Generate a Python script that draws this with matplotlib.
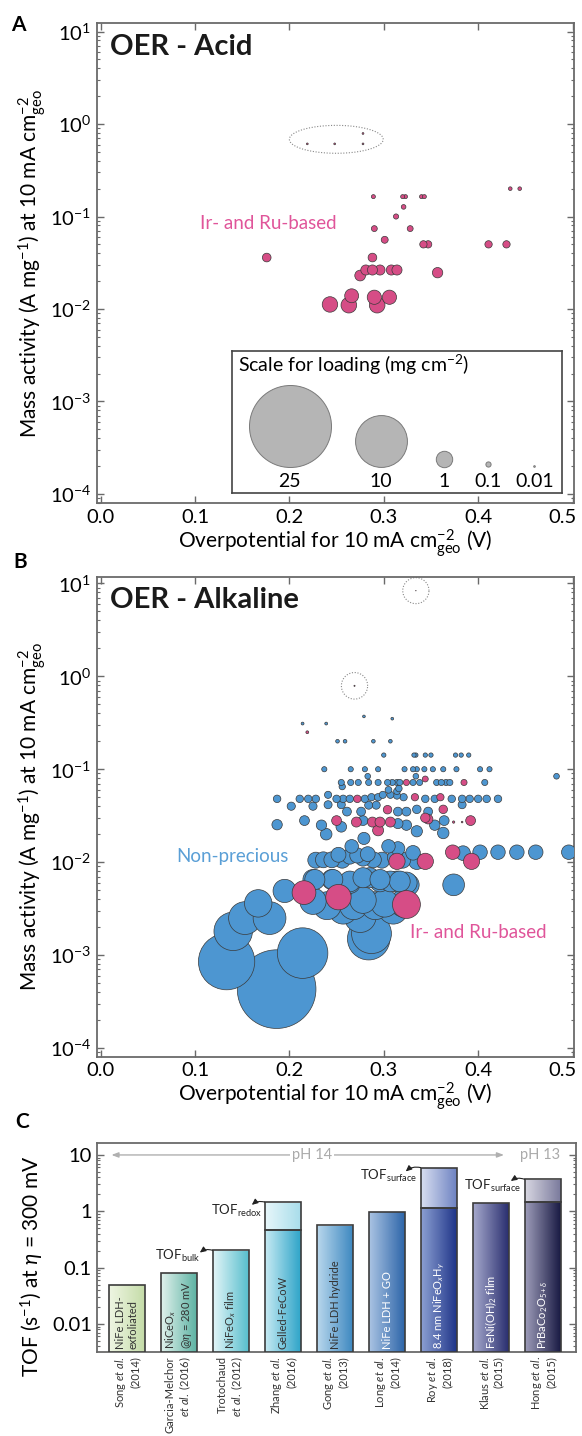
import numpy as np
import matplotlib
matplotlib.use("Agg")
import matplotlib.pyplot as plt
from matplotlib.ticker import LogLocator, NullFormatter, FuncFormatter, MultipleLocator
from matplotlib.patches import Rectangle
from matplotlib.transforms import ScaledTranslation

# ---------------- DATA ----------------
# Panel A: OER acid (Ir/Ru based)
acid_eta = [0.219, 0.248, 0.278, 0.278, 0.434, 0.444, 0.289, 0.320, 0.323, 0.340, 0.343,
            0.321, 0.313, 0.290, 0.328, 0.301, 0.342, 0.347, 0.411, 0.430, 0.288, 0.176,
            0.281, 0.288, 0.296, 0.308, 0.314, 0.275, 0.357, 0.243, 0.263, 0.266, 0.290,
            0.293, 0.306]
acid_ma = [0.61, 0.61, 0.61, 0.79, 0.20, 0.20, 0.164, 0.164, 0.164, 0.164, 0.164,
           0.127, 0.100, 0.074, 0.074, 0.056, 0.050, 0.050, 0.050, 0.050, 0.036, 0.036,
           0.0264, 0.0264, 0.0264, 0.0264, 0.0264, 0.023, 0.0247, 0.0112, 0.011, 0.0139, 0.0134,
           0.011, 0.0134]
acid_load = [0.012, 0.012, 0.012, 0.012, 0.05, 0.05, 0.06, 0.06, 0.06, 0.06, 0.06,
             0.08, 0.10, 0.13, 0.13, 0.18, 0.20, 0.20, 0.20, 0.20, 0.28, 0.28,
             0.38, 0.38, 0.38, 0.38, 0.38, 0.43, 0.40, 0.89, 0.91, 0.72, 0.75,
             0.91, 0.75]

# Panel B: OER alkaline, non-precious
alk_np_eta = [0.214, 0.239, 0.279, 0.309, 0.251, 0.259, 0.289, 0.307,
              0.300, 0.332, 0.334, 0.344, 0.350, 0.376, 0.382, 0.390,
              0.237, 0.265, 0.280, 0.294, 0.322, 0.331, 0.335, 0.343, 0.352, 0.363, 0.377, 0.402, 0.412,
              0.483, 0.283, 0.334,
              0.255, 0.265, 0.273, 0.284, 0.294, 0.304, 0.309, 0.314, 0.317, 0.331, 0.338, 0.356,
              0.361, 0.366, 0.370, 0.407,
              0.256, 0.316, 0.314, 0.305,
              0.187, 0.211, 0.220, 0.228, 0.250, 0.257, 0.264, 0.280, 0.321, 0.344, 0.354, 0.372,
              0.383, 0.391, 0.400, 0.409, 0.421,
              0.241, 0.287, 0.294, 0.299, 0.307, 0.314,
              0.202, 0.225,
              0.241, 0.255, 0.284, 0.292, 0.383,
              0.261, 0.276, 0.315, 0.324, 0.335, 0.347,
              0.187, 0.216, 0.234, 0.255, 0.278, 0.315, 0.324, 0.335, 0.354, 0.364, 0.363, 0.239, 0.279,
              0.266, 0.252, 0.236, 0.245, 0.264, 0.278, 0.289, 0.305, 0.315, 0.335, 0.331, 0.384,
              0.402, 0.421, 0.441, 0.461, 0.496,
              0.228, 0.256, 0.272, 0.283, 0.298, 0.312, 0.320,
              0.195, 0.225, 0.245, 0.264, 0.285, 0.296, 0.307, 0.317, 0.324, 0.374,
              0.227, 0.246, 0.264, 0.278, 0.296, 0.314, 0.326,
              0.225, 0.240, 0.257, 0.268, 0.278, 0.291, 0.301, 0.310, 0.321, 0.275, 0.287, 0.284,
              0.167, 0.153, 0.179, 0.1405, 0.1335, 0.1865, 0.214]
alk_np_ma = [0.31, 0.31, 0.37, 0.35, 0.20, 0.20, 0.20, 0.20,
             0.142, 0.142, 0.142, 0.142, 0.142, 0.142, 0.142, 0.142,
             0.10, 0.10, 0.10, 0.10, 0.10, 0.10, 0.10, 0.10, 0.10, 0.10, 0.10, 0.10, 0.10,
             0.084, 0.084, 0.084,
             0.072, 0.072, 0.072, 0.072, 0.072, 0.072, 0.072, 0.072, 0.072, 0.072, 0.072, 0.072,
             0.072, 0.072, 0.072, 0.072,
             0.065, 0.062, 0.058, 0.060,
             0.048, 0.048, 0.048, 0.048, 0.048, 0.048, 0.048, 0.048, 0.050, 0.048, 0.048, 0.048,
             0.048, 0.048, 0.048, 0.048, 0.048,
             0.053, 0.050, 0.050, 0.053, 0.053, 0.052,
             0.040, 0.040,
             0.0415, 0.0415, 0.041, 0.041, 0.0415,
             0.035, 0.035, 0.035, 0.035, 0.037, 0.035,
             0.0253, 0.028, 0.025, 0.024, 0.028, 0.026, 0.025, 0.0215, 0.025, 0.028, 0.0206, 0.020, 0.018,
             0.0148, 0.012, 0.0106, 0.0106, 0.0115, 0.011, 0.0106, 0.0148, 0.014, 0.0102, 0.0126, 0.0125,
             0.0128, 0.0128, 0.0128, 0.0128, 0.0128,
             0.0105, 0.0105, 0.0118, 0.0122, 0.0105, 0.0112, 0.0105,
             0.0049, 0.0065, 0.0065, 0.0062, 0.0068, 0.0062, 0.0062, 0.0062, 0.0060, 0.0057,
             0.0065, 0.0065, 0.0060, 0.0068, 0.0065, 0.0062, 0.0057,
             0.0038, 0.0034, 0.0031, 0.0034, 0.0039, 0.0034, 0.0036, 0.0031, 0.0036, 0.0026, 0.0017, 0.0015,
             0.0036, 0.0025, 0.0025, 0.0018, 0.00085, 0.00043, 0.00105]
alk_np_load = [0.03, 0.03, 0.027, 0.028, 0.05, 0.05, 0.05, 0.05,
               0.07, 0.07, 0.07, 0.07, 0.07, 0.07, 0.07, 0.07,
               0.10, 0.10, 0.10, 0.10, 0.10, 0.10, 0.10, 0.10, 0.10, 0.10, 0.10, 0.10, 0.10,
               0.12, 0.12, 0.12,
               0.14, 0.14, 0.14, 0.14, 0.14, 0.14, 0.14, 0.14, 0.14, 0.14, 0.14, 0.14,
               0.14, 0.14, 0.14, 0.14,
               0.15, 0.16, 0.17, 0.17,
               0.21, 0.21, 0.21, 0.21, 0.21, 0.21, 0.21, 0.21, 0.20, 0.21, 0.21, 0.21,
               0.21, 0.21, 0.21, 0.21, 0.21,
               0.19, 0.20, 0.20, 0.19, 0.19, 0.19,
               0.25, 0.25,
               0.24, 0.24, 0.24, 0.24, 0.24,
               0.29, 0.29, 0.29, 0.29, 0.27, 0.29,
               0.40, 0.36, 0.40, 0.42, 0.36, 0.38, 0.40, 0.47, 0.40, 0.36, 0.49, 0.50, 0.55,
               0.68, 0.83, 0.94, 0.94, 0.87, 0.91, 0.94, 0.68, 0.71, 0.98, 0.79, 0.80,
               0.78, 0.78, 0.78, 0.78, 0.78,
               0.95, 0.95, 0.85, 0.82, 0.95, 0.89, 0.95,
               2.0, 1.5, 1.5, 1.6, 1.5, 1.6, 1.6, 1.6, 1.7, 1.75,
               1.5, 1.5, 1.7, 1.5, 1.5, 1.6, 1.75,
               2.6, 2.9, 3.2, 2.9, 2.6, 2.9, 2.8, 3.2, 2.8, 3.8, 5.9, 6.7,
               2.8, 4.0, 4.0, 5.5, 11.8, 23.0, 9.5]

# Panel B: OER alkaline, Ir- and Ru-based
alk_pm_eta = [0.334, 0.269, 0.219, 0.324, 0.385, 0.344, 0.272, 0.333, 0.360, 0.304, 0.363,
              0.250, 0.271, 0.288, 0.296, 0.294, 0.307, 0.344, 0.347, 0.374, 0.383, 0.392,
              0.314, 0.344, 0.373, 0.393, 0.2155, 0.252, 0.324]
alk_pm_ma = [8.35, 0.79, 0.25, 0.072, 0.072, 0.0785, 0.048, 0.050, 0.050, 0.0367, 0.037,
             0.028, 0.027, 0.027, 0.027, 0.022, 0.027, 0.030, 0.029, 0.027, 0.027, 0.028,
             0.0102, 0.0102, 0.0128, 0.0102, 0.0047, 0.0042, 0.0035]
alk_pm_load = [0.001, 0.005, 0.03, 0.14, 0.14, 0.13, 0.21, 0.20, 0.20, 0.27, 0.27,
               0.36, 0.37, 0.37, 0.37, 0.45, 0.37, 0.33, 0.34, 0.02, 0.01, 0.36,
               0.98, 0.98, 0.78, 0.98, 2.1, 2.4, 2.9]

# Loading scale legend
legend_loads = [25, 10, 1, 0.1, 0.01]
legend_labels = ["25", "10", "1", "0.1", "0.01"]

# Panel C: TOF at 300 mV
tof_names = ["NiFe LDH-\nexfoliated", "NiCeO$_x$\n@$\\eta$ = 280 mV", "NiFeO$_x$ film",
             "Gelled-FeCoW", "NiFe LDH hydride", "NiFe LDH + GO", "8.4 nm NiFeO$_x$H$_y$",
             "FeNi(OH)$_2$ film", "PrBaCo$_2$O$_{5+\\delta}$"]
tof_refs = ["Song $\\it{et\\ al.}$\n(2014)", "Garcia-Melchor\n$\\it{et\\ al.}$ (2016)",
            "Trotochaud\n$\\it{et\\ al.}$ (2012)", "Zhang $\\it{et\\ al.}$\n(2016)",
            "Gong $\\it{et\\ al.}$\n(2013)", "Long $\\it{et\\ al.}$\n(2014)",
            "Roy $\\it{et\\ al.}$\n(2018)", "Klaus $\\it{et\\ al.}$\n(2015)",
            "Hong $\\it{et\\ al.}$\n(2015)"]
tof_main = [0.05, 0.08, 0.203, 0.47, 0.56, 0.98, 1.13, 1.39, 1.49]
tof_upper = [None, None, None, 1.46, None, None, 5.97, None, 3.7]

# ---------------- STYLE ----------------
DPI = 100
W, H = 582, 1436
FONT = "Lato"
plt.rcParams["font.family"] = [FONT, "DejaVu Sans"]
plt.rcParams["mathtext.fontset"] = "custom"
plt.rcParams["mathtext.rm"] = FONT
plt.rcParams["mathtext.it"] = FONT + ":italic"
plt.rcParams["mathtext.bf"] = FONT + ":bold"
plt.rcParams["axes.unicode_minus"] = False

PINK = "#d64d86"
BLUE = "#4d96d1"
EDGE = "#3a3a3a"
SPINE = "#6a6a6a"
R1_PX = 8.2  # radius in px for loading of 1 mg cm-2
TICK_FS = 14.5
LABEL_FS = 15


def size_from_load(load):
    load = np.asarray(load, dtype=float)
    return (2 * R1_PX * np.sqrt(load) * 72.0 / DPI) ** 2


def frac(x0, y0, x1, y1):
    return [x0 / W, 1 - y1 / H, (x1 - x0) / W, (y1 - y0) / H]


fig = plt.figure(figsize=(W / DPI, H / DPI), dpi=DPI)

axA = fig.add_axes(frac(96.7, 23.3, 573.7, 503.3))
axB = fig.add_axes(frac(96.7, 576.7, 573.7, 1056.7))
axC = fig.add_axes(frac(96.7, 1142.7, 575.6, 1352.3))


def style_scatter_axes(ax, ylim):
    ax.set_yscale("log")
    ax.set_xlim(-0.0041, 0.5012)
    ax.set_ylim(*ylim)
    ax.set_xticks([0.0, 0.1, 0.2, 0.3, 0.4, 0.5])
    ax.xaxis.set_major_formatter(FuncFormatter(lambda v, _: f"{v:.1f}"))
    ax.yaxis.set_major_locator(LogLocator(base=10, numticks=20))
    ax.yaxis.set_minor_locator(LogLocator(base=10, subs=np.arange(2, 10), numticks=20))
    ax.yaxis.set_minor_formatter(NullFormatter())
    ax.tick_params(which="both", direction="in", top=True, right=True, color=SPINE)
    ax.tick_params(which="major", length=5, width=1, labelsize=TICK_FS, pad=4)
    ax.tick_params(which="minor", length=2.5, width=0.8)
    for s in ax.spines.values():
        s.set_color(SPINE)
        s.set_linewidth(1.3)
    ax.set_xlabel(r"Overpotential for 10 mA cm$^{-2}_{\rm geo}$ (V)", fontsize=LABEL_FS, va="center")
    ax.xaxis.set_label_coords(0.5, -0.082)
    ax.set_ylabel(r"Mass activity (A mg$^{-1}$) at 10 mA cm$^{-2}_{\rm geo}$", fontsize=LABEL_FS,
                  va="center")
    ax.yaxis.set_label_coords(-0.135, 0.5)


def dotted_ellipse(ax, cx, cy, hw, hdec):
    t = np.linspace(0, 2 * np.pi, 200)
    ax.plot(cx + hw * np.cos(t), cy * 10 ** (hdec * np.sin(t)), ls=(0, (1, 1.5)),
            color="#888888", lw=0.8, zorder=1)


def scatter_sorted(ax, x, y, load, color, z):
    x = np.asarray(x); y = np.asarray(y); load = np.asarray(load)
    order = np.argsort(-load)
    ax.scatter(x[order], y[order], s=size_from_load(load[order]), c=color,
               edgecolors=EDGE, linewidths=0.5, zorder=z)


# ---- Panel A ----
style_scatter_axes(axA, (7.93e-5, 12.27))
scatter_sorted(axA, acid_eta, acid_ma, acid_load, PINK, 3)
dotted_ellipse(axA, 0.2497, 0.683, 0.0497, 0.151)
axA.text(0.028, 0.951, "OER - Acid", transform=axA.transAxes, fontsize=21, fontweight="bold",
         ha="left", va="center", color="#1a1a1a")
axA.text(0.105, 0.083, "Ir- and Ru-based", color="#e0559a", fontsize=13.5, ha="left", va="center")

# legend for loading
legx0, legy0, legx1, legy1 = 231.7, 350.7, 562.4, 492.7
axL = fig.add_axes(frac(legx0, legy0, legx1, legy1))
lw_px, lh_px = legx1 - legx0, legy1 - legy0
axL.set_xlim(0, lw_px)
axL.set_ylim(0, lh_px)
axL.set_xticks([]); axL.set_yticks([])
for s in axL.spines.values():
    s.set_color("#444444"); s.set_linewidth(1.2)
leg_x = [57.8, 148.9, 212.6, 256.5, 302.6]
base = 25.7
for lx, ld, lab in zip(leg_x, legend_loads, legend_labels):
    axL.scatter([lx], [base + R1_PX * np.sqrt(ld)], s=size_from_load([ld]), c="#b5b5b5",
                edgecolors="#7a7a7a", linewidths=0.7, zorder=3)
    axL.text(lx, 11, lab, ha="center", va="center", fontsize=14)
axL.text(6.8, 127.7, "Scale for loading (mg cm$^{-2}$)", ha="left", va="center", fontsize=14)

# ---- Panel B ----
style_scatter_axes(axB, (8.06e-5, 11.8))
scatter_sorted(axB, alk_np_eta, alk_np_ma, alk_np_load, BLUE, 3)
scatter_sorted(axB, alk_pm_eta, alk_pm_ma, alk_pm_load, PINK, 4)
dotted_ellipse(axB, 0.269, 0.79, 0.0139, 0.143)
dotted_ellipse(axB, 0.334, 8.35, 0.0139, 0.14)
axB.text(0.028, 0.951, "OER - Alkaline", transform=axB.transAxes, fontsize=21, fontweight="bold",
         ha="left", va="center", color="#1a1a1a")
axB.text(0.08, 0.0115, "Non-precious", color="#5a9fd6", fontsize=13.5, ha="left", va="center")
axB.text(0.328, 0.00175, "Ir- and Ru-based", color="#e0559a", fontsize=13.5, ha="left", va="center")

# ---- Panel C ----
C_YMIN, C_YMAX = 0.00314, 16.5
axC.set_yscale("log")
axC.set_ylim(C_YMIN, C_YMAX)
axC.set_xlim(-0.583, 8.627)
axC.yaxis.set_major_locator(LogLocator(base=10, numticks=20))
axC.yaxis.set_minor_locator(LogLocator(base=10, subs=np.arange(2, 10), numticks=20))
axC.yaxis.set_minor_formatter(NullFormatter())
axC.yaxis.set_major_formatter(FuncFormatter(lambda v, _: f"{v:g}"))
axC.tick_params(axis="y", which="both", direction="in", right=True, color=SPINE)
axC.tick_params(axis="y", which="major", length=5, width=1, labelsize=TICK_FS)
axC.tick_params(axis="y", which="minor", length=2.5, width=0.8)
for s in axC.spines.values():
    s.set_color(SPINE); s.set_linewidth(1.3)
axC.set_ylabel(r"TOF (s$^{-1}$) at $\eta$ = 300 mV", fontsize=LABEL_FS, va="center")
axC.yaxis.set_label_coords(-0.135, 0.412)

xpos = np.arange(len(tof_main))
axC.set_xticks(xpos)
axC.set_xticklabels(tof_refs, rotation=90, ha="center", va="top", multialignment="right",
                    fontsize=8, color="#333333")
axC.tick_params(axis="x", length=0, pad=3)

BAR_W = 0.71
lower_cols = [("#eef5e2", "#c3dba6"), ("#def0eb", "#58b0a0"), ("#e0f4f7", "#52bccb"),
              ("#c4e9f2", "#29a2c7"), ("#b7d6ec", "#3a86bf"), ("#a8c2e2", "#2962a7"),
              ("#8a9ed1", "#1b3186"), ("#a4a7cb", "#252a6c"), ("#9b9ab7", "#14153f")]
upper_cols = [None, None, None, ("#e6f6fa", "#a6dcea"), None, None,
              ("#d6ddf0", "#6a7fc0"), None, ("#d6d5e0", "#77779a")]
text_cols = ["#333333"] * 5 + ["white"] * 4


def grad_bar(ax, x, y0, y1, cols):
    rect = Rectangle((x - BAR_W / 2, y0), BAR_W, y1 - y0, facecolor="none",
                     edgecolor="#3c3c3c", lw=1.2, zorder=4)
    ax.add_patch(rect)
    cmap = matplotlib.colors.LinearSegmentedColormap.from_list("g", list(cols))
    grad = np.linspace(0, 1, 64).reshape(1, -1)
    im = ax.imshow(grad, cmap=cmap, extent=[x - BAR_W / 2, x + BAR_W / 2, y0, y1],
                   aspect="auto", interpolation="bilinear", zorder=3)
    im.set_clip_path(rect)


for i in range(len(tof_main)):
    grad_bar(axC, xpos[i], C_YMIN, tof_main[i], lower_cols[i])
    if tof_upper[i] is not None:
        grad_bar(axC, xpos[i], tof_main[i], tof_upper[i], upper_cols[i])
    axC.annotate(tof_names[i], xy=(xpos[i], 0.015), xycoords=("data", "axes fraction"),
                 rotation=90, ha="center", va="bottom", multialignment="left",
                 fontsize=8, color=text_cols[i], zorder=6)

axC.set_xlim(-0.583, 8.627)
axC.set_ylim(C_YMIN, C_YMAX)

# TOF annotations (bar index, bar top, subscript, text anchor, arrow head)
ann = [(2, 0.203, "bulk", (1.40, 0.16), (1.40, 0.185)),
       (3, 1.46, "redox", (2.60, 1.0), (2.40, 1.30)),
       (6, 5.97, "surface", (5.58, 4.2), (5.36, 5.1)),
       (8, 3.7, "surface", (7.58, 2.8), (7.38, 3.45))]
for bi, top, sub, tpos, head in ann:
    axC.text(tpos[0], tpos[1], "TOF$_{\\rm " + sub + "}$", ha="right", va="center",
             fontsize=9.5, color="#222222", zorder=6)
    axC.annotate("", xy=head, xytext=(bi - BAR_W / 2, top),
                 arrowprops=dict(arrowstyle="-|>,head_length=0.35,head_width=0.16",
                                 color="#222222", lw=0.8, shrinkA=0, shrinkB=0,
                                 connectionstyle="arc3,rad=0.25"), zorder=6)

# pH arrows
PH_Y = 10
axC.annotate("", xy=(-0.3, PH_Y), xytext=(7.25, PH_Y),
             arrowprops=dict(arrowstyle="<|-|>,head_length=0.4,head_width=0.15",
                             color="#b0b0b0", lw=1.0, shrinkA=0, shrinkB=0), zorder=5)
axC.text(3.55, PH_Y, "pH 14", ha="center", va="center", color="#aaaaaa", fontsize=10.5,
         bbox=dict(facecolor="white", edgecolor="none", pad=1.5), zorder=6)
axC.text(7.94, PH_Y, "pH 13", ha="center", va="center", color="#aaaaaa", fontsize=10.5, zorder=6)

# panel letters
for lab, (px, py) in zip(["A", "B", "C"], [(18, 25), (20, 561.7), (21.7, 1121.7)]):
    fig.text(px / W, 1 - py / H, lab, fontsize=15, fontweight="bold", ha="center", va="center")

# nudge the right-most x tick label ("0.5") so it stays inside the figure
fig.canvas.draw()
shift = ScaledTranslation(-7 / 72.0, 0, fig.dpi_scale_trans)
for ax in (axA, axB):
    lab = ax.xaxis.get_major_ticks()[-1].label1
    lab.set_transform(lab.get_transform() + shift)

fig.savefig("out.png", dpi=DPI)
